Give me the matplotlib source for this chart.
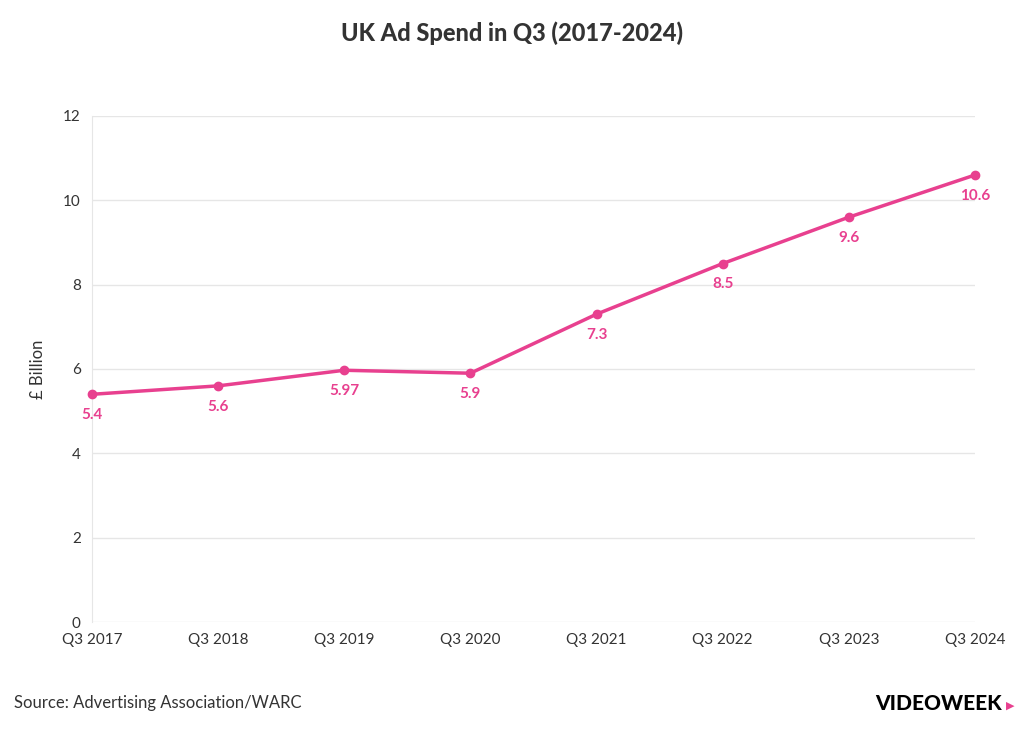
import matplotlib.pyplot as plt

quarters = ["Q3 2017", "Q3 2018", "Q3 2019", "Q3 2020", "Q3 2021", "Q3 2022", "Q3 2023", "Q3 2024"]
spend = [5.4, 5.6, 5.97, 5.9, 7.3, 8.5, 9.6, 10.6]
labels = ["5.4", "5.6", "5.97", "5.9", "7.3", "8.5", "9.6", "10.6"]

pink = "#E8408F"
plt.rcParams['font.family'] = ['Lato', 'DejaVu Sans']

fig = plt.figure(figsize=(10.24, 7.42), dpi=100)
ax = fig.add_axes([0.0898, 0.1617, 0.8623, 0.682])

x = list(range(len(quarters)))
ax.plot(x, spend, color=pink, lw=2.5, marker='o', ms=6, zorder=3, clip_on=False)
for xi, yi, lab in zip(x, spend, labels):
    ax.annotate(lab, (xi, yi), xytext=(0, -10), textcoords='offset points',
                ha='center', va='top', color=pink, fontsize=11, fontweight='bold')

ax.set_xlim(0, len(quarters) - 1)
ax.set_ylim(0, 12)
ax.set_yticks(range(0, 13, 2))
ax.set_xticks(x)
ax.set_xticklabels(quarters)
ax.tick_params(axis='both', length=0, labelsize=11, colors='#333333', pad=8)
ax.grid(axis='y', color='#e6e6e6', lw=1)
ax.set_axisbelow(True)
for s in ['top', 'right', 'bottom']:
    ax.spines[s].set_visible(False)
ax.spines['left'].set_color('#e6e6e6')
ax.set_ylabel("£ Billion", fontsize=12, color='#333333', labelpad=12)

fig.text(0.5, 0.955, "UK Ad Spend in Q3 (2017-2024)", ha='center', va='center',
         fontsize=17, fontweight='black', color='#333333')
fig.text(0.014, 0.052, "Source: Advertising Association/WARC", ha='left', va='center',
         fontsize=12, color='#333333')
fig.text(0.978, 0.052, "VIDEOWEEK", ha='right', va='center', fontsize=15,
         fontweight='black', color='black')
fig.text(0.982, 0.050, "▶", ha='left', va='center', fontsize=8, color=pink)

fig.savefig("out.png", dpi=100)
